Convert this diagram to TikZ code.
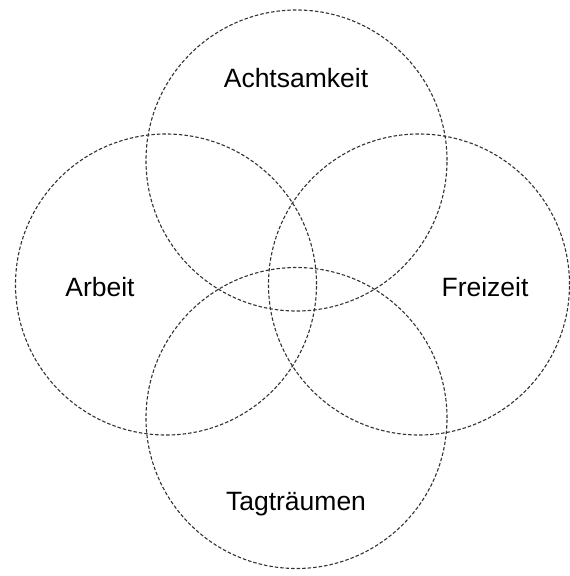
\documentclass[tikz,border=0pt]{standalone}
\usepackage{fontspec}
\setmainfont{Liberation Sans}
\begin{document}
\begin{tikzpicture}[x=1pt,y=-1pt,
  ring/.style={circle,draw=black!80,dash pattern=on 3.5pt off 2pt,line width=1.1pt,minimum size=301pt,inner sep=0pt},
  lbl/.style={font=\fontsize{26.5}{30}\selectfont,text=black,inner sep=0pt}]
\useasboundingbox (0,0) rectangle (570,576);
\node[ring] (top) at (296.5,160.5) {};
\node[ring] (left) at (166,284.5) {};
\node[ring] (right) at (419,284.5) {};
\node[ring] (bottom) at (296.5,418) {};
\node[lbl] (achtsamkeit) at (296,78) {Achtsamkeit};
\node[lbl] (arbeit) at (100,287) {Arbeit};
\node[lbl] (freizeit) at (485,287) {Freizeit};
\node[lbl] (tagtraeumen) at (296,504) {Tagträumen};
\end{tikzpicture}
\end{document}
